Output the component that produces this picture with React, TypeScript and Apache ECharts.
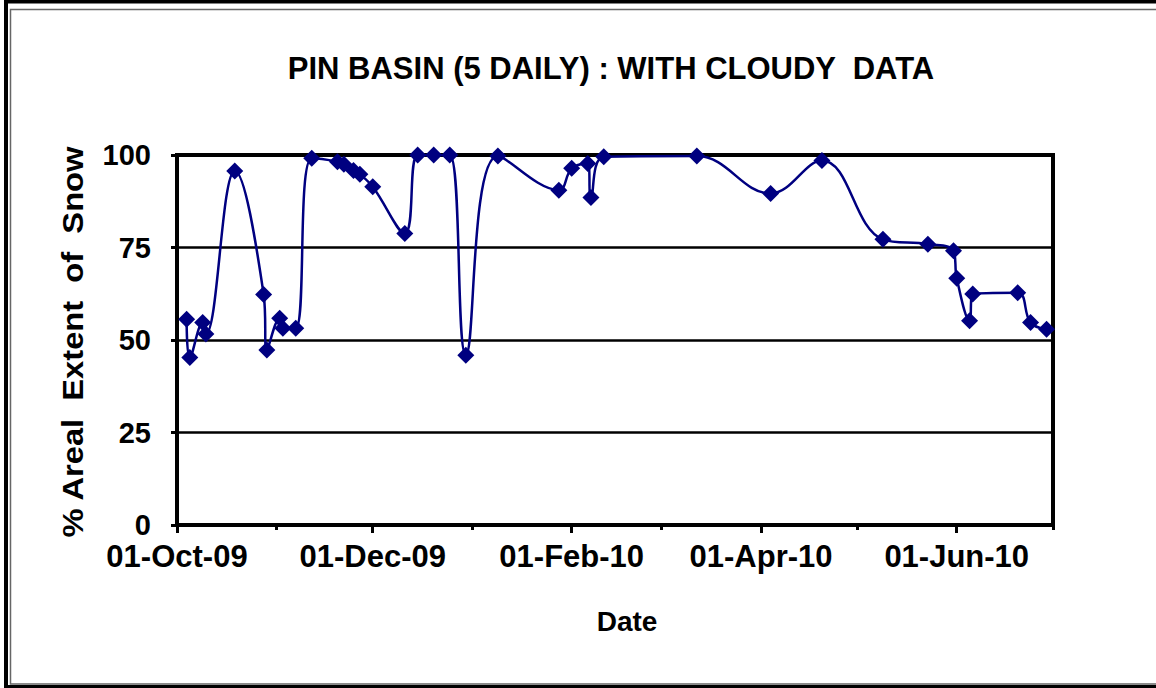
import React, { useEffect, useRef } from "react";
import * as echarts from "echarts";

const dates: string[] = [
  "2009-10-04", "2009-10-05", "2009-10-09", "2009-10-10", "2009-10-19",
  "2009-10-28", "2009-10-29", "2009-11-02", "2009-11-03", "2009-11-07",
  "2009-11-12", "2009-11-20", "2009-11-22", "2009-11-25", "2009-11-27",
  "2009-12-01", "2009-12-11", "2009-12-15", "2009-12-20", "2009-12-25",
  "2009-12-30", "2010-01-09", "2010-01-28", "2010-02-01", "2010-02-06",
  "2010-02-07", "2010-02-11", "2010-03-12", "2010-04-04", "2010-04-20",
  "2010-05-09", "2010-05-23", "2010-05-31", "2010-06-01", "2010-06-05",
  "2010-06-06", "2010-06-20", "2010-06-24", "2010-06-29",
];
const snowCover: number[] = [
  55.6, 45.3, 54.7, 51.6, 95.7,
  62.3, 47.3, 55.9, 53.2, 53.2,
  99.1, 98.2, 97.5, 95.8, 94.8,
  91.4, 78.8, 100, 100, 100,
  45.9, 99.7, 90.5, 96.4, 97.7,
  88.5, 99.5, 99.7, 89.6, 98.5,
  77.2, 75.9, 74.1, 66.7, 55.2,
  62.4, 62.8, 54.7, 52.9,
];
const axisStart = "2009-10-01";
const axisEnd = "2010-07-01";
const majorTickDates: string[] = ["2009-10-01", "2009-12-01", "2010-02-01", "2010-04-01", "2010-06-01"];
const minorTickDates: string[] = ["2009-11-01", "2010-01-01", "2010-03-01", "2010-05-01", "2010-07-01"];
const yMin = 0;
const yMax = 100;
const yStep = 25;
const MONTHS = ["Jan", "Feb", "Mar", "Apr", "May", "Jun", "Jul", "Aug", "Sep", "Oct", "Nov", "Dec"];

const chartTitle = "PIN BASIN (5 DAILY) : WITH CLOUDY  DATA";
const xTitle = "Date";
const yTitle = "% Areal  Extent  of  Snow";

function toTime(s: string): number {
  const [y, m, d] = s.split("-").map(Number);
  return Date.UTC(y, m - 1, d);
}
function fmtDate(v: number): string {
  const d = new Date(v);
  const dd = String(d.getUTCDate()).padStart(2, "0");
  return dd + "-" + MONTHS[d.getUTCMonth()] + "-" + String(d.getUTCFullYear()).slice(2);
}

const FONT = "Liberation Sans, Arial, sans-serif";
const NAVY = "#000080";

export default function App() {
  const ref = useRef<HTMLDivElement>(null);
  useEffect(() => {
    document.body.style.margin = "0";
    const chart = echarts.init(ref.current!, undefined, { renderer: "svg" });
    const grid = { left: 177, right: 103, top: 155, bottom: 163 };
    chart.setOption({
      animation: false,
      backgroundColor: "#fff",
      grid: [
        { ...grid, show: true, borderColor: "#000", borderWidth: 4, backgroundColor: "transparent", containLabel: false },
        { ...grid, show: false, containLabel: false },
      ],
      xAxis: [
        {
          type: "value",
          gridIndex: 0,
          min: toTime(axisStart),
          max: toTime(axisEnd),
          axisLine: { show: true, lineStyle: { color: "#000", width: 4 } },
          axisTick: {
            show: true,
            customValues: majorTickDates.map(toTime),
            length: 8,
            lineStyle: { color: "#000", width: 3 },
          },
          axisLabel: {
            show: true,
            customValues: majorTickDates.map(toTime),
            formatter: (v: number) => fmtDate(v),
            fontSize: 31,
            lineHeight: 26,
            fontWeight: "bold",
            fontFamily: FONT,
            color: "#000",
            margin: 18,
            hideOverlap: false,
          },
          splitLine: { show: false },
        },
        {
          type: "value",
          gridIndex: 1,
          min: toTime(axisStart),
          max: toTime(axisEnd),
          axisLine: { show: false },
          axisTick: {
            show: true,
            customValues: minorTickDates.map(toTime),
            length: 5,
            lineStyle: { color: "#000", width: 3 },
          },
          axisLabel: { show: false },
          splitLine: { show: false },
        },
      ],
      yAxis: [
        {
          type: "value",
          gridIndex: 0,
          min: yMin,
          max: yMax,
          interval: yStep,
          axisLine: { show: true, lineStyle: { color: "#000", width: 4 } },
          axisTick: { show: true, length: 6, lineStyle: { color: "#000", width: 3 } },
          axisLabel: {
            fontSize: 29,
            lineHeight: 22,
            fontWeight: "bold",
            fontFamily: FONT,
            color: "#000",
            margin: 26,
          },
          splitLine: { show: true, lineStyle: { color: "#000", width: 2.5 } },
        },
        {
          type: "value",
          gridIndex: 1,
          min: yMin,
          max: yMax,
          show: false,
        },
      ],
      series: [
        {
          type: "line",
          xAxisIndex: 0,
          yAxisIndex: 0,
          data: dates.map((d, i) => [toTime(d), snowCover[i]]),
          smooth: 0.4,
          clip: true,
          symbol: "diamond",
          symbolSize: 17,
          itemStyle: { color: NAVY },
          lineStyle: { color: NAVY, width: 2.5 },
        },
      ],
      graphic: [
        {
          type: "rect",
          silent: true,
          shape: { x: 6, y: 1.5, width: 1200, height: 685.5 },
          style: { fill: "none", stroke: "#000", lineWidth: 4 },
        },
        {
          type: "rect",
          silent: true,
          shape: { x: 10.5, y: 9.5, width: 1200, height: 674.5 },
          style: { fill: "none", stroke: "#666", lineWidth: 1.5 },
        },
        {
          type: "text",
          x: 611,
          y: 68,
          style: {
            text: chartTitle,
            fontSize: 31,
            fontWeight: "bold",
            fontFamily: FONT,
            fill: "#000",
            textAlign: "center",
            align: "center",
            textVerticalAlign: "middle",
            verticalAlign: "middle",
          },
        },
        {
          type: "text",
          x: 627,
          y: 621,
          style: {
            text: xTitle,
            fontSize: 28,
            fontWeight: "bold",
            fontFamily: FONT,
            fill: "#000",
            textAlign: "center",
            align: "center",
            textVerticalAlign: "middle",
            verticalAlign: "middle",
          },
        },
        {
          type: "text",
          x: 73,
          y: 342,
          rotation: Math.PI / 2,
          scaleX: 1.09,
          style: {
            text: yTitle,
            fontSize: 30,
            fontWeight: "bold",
            fontFamily: FONT,
            fill: "#000",
            textAlign: "center",
            align: "center",
            textVerticalAlign: "middle",
            verticalAlign: "middle",
          },
        },
      ],
    });
    return () => chart.dispose();
  }, []);
  return <div ref={ref} style={{ width: 1156, height: 688 }} />;
}
